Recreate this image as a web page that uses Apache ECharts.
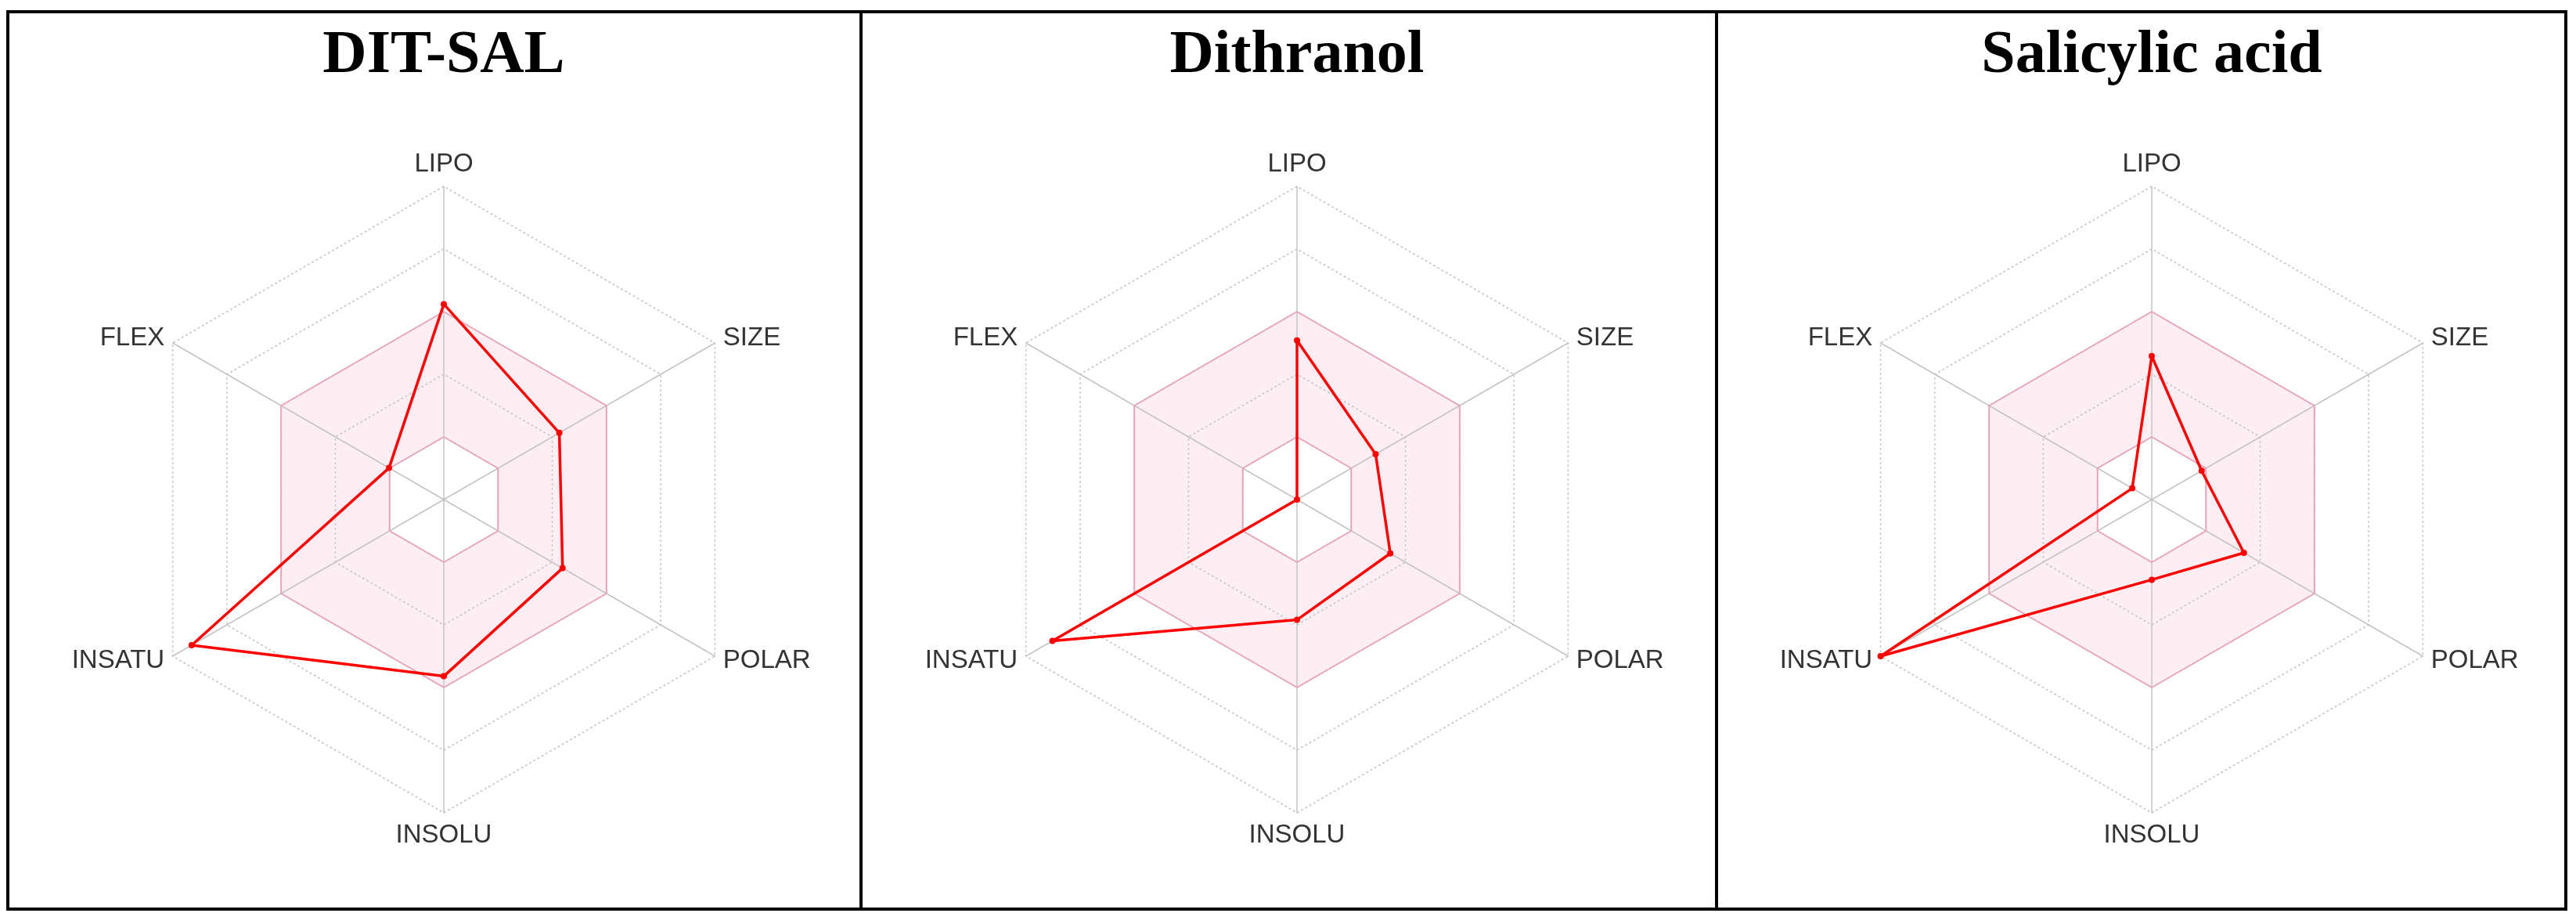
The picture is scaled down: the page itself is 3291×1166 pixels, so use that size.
<!DOCTYPE html>
<html>
<head>
<meta charset="utf-8">
<script src="https://cdn.jsdelivr.net/npm/echarts@6/dist/echarts.min.js"></script>
<style>
  html, body { margin: 0; padding: 0; background: #fff; }
  #chart { width: 3291px; height: 1166px; }
</style>
</head>
<body>
<div id="chart"></div>
<script>
// ECharts radar goes counter-clockwise from the top
const axes = ["LIPO", "FLEX", "INSATU", "INSOLU", "POLAR", "SIZE"];
const titles = ["DIT-SAL", "Dithranol", "Salicylic acid"];

const ditSal = [3.12, 1.01, 4.65, 2.82, 2.19, 2.13];
const dithranol = [2.54, 0, 4.51, 1.92, 1.72, 1.45];
const salicylic = [2.29, 0.36, 5, 1.28, 1.7, 0.92];

// optimal range band edges
const bandLow = [1, 1, 1, 1, 1, 1];
const bandHigh = [3, 3, 3, 3, 3, 3];

const panels = [ditSal, dithranol, salicylic];
const centersX = [567, 1657, 2749];
const centerY = 638;
const radius = 400;

const chart = echarts.init(document.getElementById("chart"));

const radar = [];
const series = [];
const graphic = [];

panels.forEach((vals, i) => {
  radar.push({
    center: [centersX[i], centerY],
    radius: radius,
    startAngle: 90,
    shape: "polygon",
    splitNumber: 5,
    indicator: axes.map(n => ({ name: n, max: 5, min: 0 })),
    axisName: { color: "#333", fontSize: 33, fontFamily: "Liberation Sans" },
    nameGap: 12,
    axisLine: { lineStyle: { color: "#c4c4c4", width: 1.5 } },
    splitLine: { lineStyle: { color: "#c8c8c8", type: [3, 3], width: 1.5 } },
    splitArea: {
      show: true,
      areaStyle: { color: ["#ffffff", "#fdeef3", "#fdeef3", "#ffffff", "#ffffff"] }
    }
  });
  [bandLow, bandHigh].forEach(b => {
    series.push({
      type: "radar",
      radarIndex: i,
      silent: true,
      symbol: "none",
      lineStyle: { color: "#e9a6b8", width: 2 },
      data: [{ value: b }]
    });
  });
  series.push({
    type: "radar",
    radarIndex: i,
    symbol: "circle",
    symbolSize: 8,
    itemStyle: { color: "#ff0000" },
    lineStyle: { color: "#ff0000", width: 3.5 },
    data: [{ value: vals, name: titles[i] }]
  });
  graphic.push({
    type: "text",
    style: {
      text: titles[i],
      x: centersX[i],
      y: 72,
      align: "center",
      verticalAlign: "middle",
      font: "bold 78px 'Liberation Serif'",
      fill: "#000"
    }
  });
});

// panel frames
graphic.push({
  type: "rect",
  shape: { x: 10, y: 15, width: 3268, height: 1146 },
  style: { fill: "none", stroke: "#000", lineWidth: 4 }
});
[1100, 2193].forEach(x => {
  graphic.push({
    type: "line",
    shape: { x1: x, y1: 15, x2: x, y2: 1161 },
    style: { stroke: "#000", lineWidth: 4 }
  });
});

chart.setOption({
  backgroundColor: "#fff",
  animation: false,
  radar: radar,
  series: series,
  graphic: graphic
});
</script>
</body>
</html>
